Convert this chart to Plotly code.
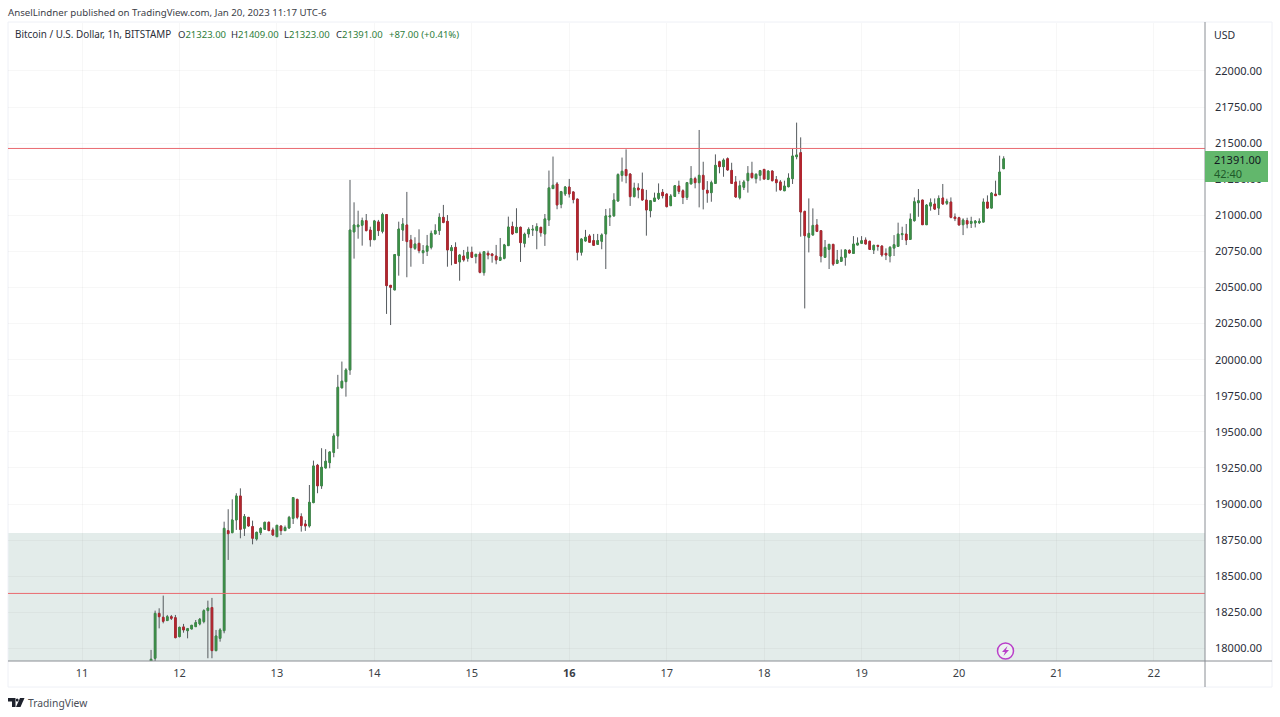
import pandas as pd
import plotly.graph_objects as go

START = "2023-01-11 17:00"
OPEN = [17905,17932,18243,18216,18193,18220,18213,18082,18149,18123,18135,18151,18170,18186,18262,18283,17985,18070,18123,18816,
18802,18890,19056,18832,18908,18844,18758,18802,18825,18874,18821,18774,18848,18816,18834,18901,19033,18913,18862,18848,
19010,19269,19126,19250,19287,19357,19472,19805,19848,19929,20885,20921,20931,20963,20898,20831,20954,20889,21005,20515,
20483,20721,20898,20933,20829,20771,20806,20741,20751,20778,20871,20894,20986,20958,20755,20778,20677,20718,20702,20744,
20714,20732,20603,20737,20732,20718,20688,20702,20790,20922,20880,20917,20806,20871,20898,20894,20917,20871,20968,21185,
21217,21076,21148,21196,21162,21113,20744,20822,20857,20825,20799,20820,20871,20989,20996,21099,21277,21317,21286,21129,
21189,21180,21106,21032,21097,21117,21159,21147,21067,21131,21203,21170,21124,21217,21254,21226,21277,21173,21157,21221,
21371,21337,21392,21311,21231,21122,21194,21240,21291,21254,21277,21318,21249,21307,21247,21231,21170,21198,21254,21406,
21434,21027,20847,20863,20933,20893,20709,20764,20799,20667,20681,20709,20757,20736,20794,20806,20829,20820,20760,20792,
20787,20736,20718,20773,20785,20866,20870,20833,20963,21087,21106,20935,21064,21078,21050,21120,21083,21092,20988,20983,
20935,20963,20944,20947,20949,20953,21092,21050,21147,21143,21323]
HIGH = [17990,18262,18278,18366,18232,18232,18232,18151,18170,18142,18163,18197,18211,18271,18331,18350,18128,18140,18878,18964,
19033,19075,19109,18931,18908,18885,18809,18839,18876,18878,18837,18855,18853,18851,18918,19047,19035,18936,18890,19132,
19301,19278,19387,19380,19363,19490,19895,19987,19941,21245,21090,21032,20984,21009,20921,20968,20968,21018,21005,20517,
20732,20956,20981,21162,20864,20848,20903,20794,20864,20894,20938,21014,21072,21002,20794,20813,20730,20760,20783,20783,
20732,20748,20748,20755,20737,20795,20843,20802,20991,20956,21049,20922,20880,20917,20933,20945,20917,21009,21310,21407,
21231,21169,21203,21252,21164,21113,20841,20899,20869,20871,20871,20875,21044,21049,21153,21291,21400,21457,21291,21226,
21222,21296,21176,21106,21157,21221,21182,21152,21147,21210,21240,21180,21231,21341,21267,21591,21371,21237,21240,21422,
21378,21394,21401,21364,21272,21240,21244,21341,21371,21291,21314,21321,21309,21309,21272,21244,21240,21291,21464,21642,
21540,21032,21117,21048,20974,20898,20829,20801,20801,20760,20764,20764,20764,20856,20847,20856,20847,20824,20796,20792,
20792,20771,20787,20863,20949,20921,20940,21013,21124,21182,21106,21078,21117,21117,21138,21217,21115,21124,21013,20990,
20979,20983,20990,20967,20979,21117,21138,21161,21240,21413,21409]
LOW = [17890,17909,18139,18174,18190,18197,18070,18077,18109,18070,18133,18151,18160,18174,17932,17932,17980,18047,18105,18613,
18798,18821,18763,18779,18844,18721,18747,18786,18821,18814,18779,18774,18786,18814,18830,18862,18895,18809,18814,18837,
19006,19075,19105,19248,19248,19324,19382,19802,19744,19895,20700,20838,20790,20889,20783,20829,20857,20875,20317,20240,
20483,20582,20822,20571,20644,20760,20737,20663,20718,20764,20871,20864,20945,20644,20654,20663,20547,20679,20679,20704,
20667,20598,20582,20695,20672,20661,20688,20695,20788,20864,20880,20677,20778,20845,20857,20765,20852,20788,20926,21187,
21042,21049,21134,21123,21083,20688,20721,20818,20811,20788,20795,20765,20628,20926,20991,21095,21233,21222,21065,21125,
21118,21102,20859,20986,21094,21106,21117,21055,21064,21129,21147,21078,21106,21217,21187,21055,21041,21087,21094,21217,
21291,21267,21309,21217,21122,21110,21175,21157,21254,21221,21240,21249,21244,21235,21164,21170,21170,21194,21217,21388,
20852,20355,20743,20863,20884,20674,20709,20628,20649,20667,20679,20651,20736,20736,20794,20801,20801,20760,20732,20755,
20713,20690,20674,20718,20783,20829,20794,20833,20956,20990,20933,20933,21032,21037,21002,21076,21071,20979,20960,20930,
20863,20910,20912,20916,20940,20953,21046,21048,21134,21143,21323]
CLOSE = [17925,18243,18220,18188,18220,18209,18075,18146,18128,18137,18160,18179,18202,18262,18280,17985,18086,18128,18832,18795,
18890,19056,18825,18913,18848,18763,18804,18832,18874,18816,18786,18853,18816,18837,18908,19045,18908,18851,18848,19012,
19264,19126,19255,19297,19361,19472,19809,19851,19929,20898,20933,20933,20963,20894,20831,20961,20894,21005,20513,20501,
20728,20905,20940,20818,20776,20801,20755,20755,20788,20875,20894,20986,20951,20760,20776,20667,20725,20691,20744,20709,
20730,20605,20748,20725,20721,20691,20709,20795,20919,20871,20917,20811,20869,20903,20903,20922,20880,20975,21190,21208,
21072,21164,21196,21148,21109,20744,20836,20848,20813,20792,20825,20864,20996,20996,21106,21282,21305,21275,21129,21189,
21176,21106,21037,21101,21120,21152,21136,21060,21134,21205,21166,21124,21226,21254,21226,21277,21180,21154,21226,21346,
21337,21383,21314,21221,21127,21205,21231,21291,21261,21284,21309,21251,21307,21240,21226,21177,21203,21258,21411,21418,
21023,20859,20875,20930,20889,20718,20778,20799,20662,20690,20709,20760,20739,20801,20808,20824,20801,20764,20792,20785,
20725,20725,20778,20796,20870,20873,20829,20974,21094,21101,20935,21071,21087,21043,21117,21078,21097,20986,20977,20933,
20967,20940,20958,20960,20958,21092,21050,21154,21136,21300,21391]

DAY_TICKS = ["2023-01-%02d" % d for d in range(11, 23)]
DAY_LABELS = ["11","12","13","14","15","<b>16</b>","17","18","19","20","21","22"]
PRICE_TICKS = list(range(18000, 22001, 250))
PRICE_LABELS = ["%d.00" % p for p in PRICE_TICKS]
ZONE_LOW, ZONE_HIGH = 17913, 18800
LEVELS = [21463, 18381]

times = pd.date_range(START, periods=len(OPEN), freq="h")

W, H = 1280, 717
L, R, T, B = 8, 1205, 23, 661
def px(x): return (x - L) / (R - L)
def py(y): return (B - y) / (B - T)

GREEN, RED, WICK = "#3c8f47", "#b3262f", "#555a5e"
SANS = "Noto Sans, sans-serif"
GRID = "rgba(42,46,57,0.04)"

fig = go.Figure()
fig.add_trace(go.Candlestick(x=times, open=OPEN, high=HIGH, low=LOW, close=CLOSE, name="wicks",
    increasing=dict(line=dict(color=WICK, width=1), fillcolor=WICK),
    decreasing=dict(line=dict(color=WICK, width=1), fillcolor=WICK),
    hoverinfo="skip", showlegend=False))
body_hi = [max(a, b) for a, b in zip(OPEN, CLOSE)]
body_lo = [min(a, b) for a, b in zip(OPEN, CLOSE)]
fig.add_trace(go.Candlestick(x=times, open=OPEN, high=body_hi, low=body_lo, close=CLOSE, name="BTCUSD",
    increasing=dict(line=dict(color=GREEN, width=1), fillcolor=GREEN),
    decreasing=dict(line=dict(color=RED, width=1), fillcolor=RED),
    showlegend=False))

shapes = [
    dict(type="rect", xref="paper", yref="y", x0=0, x1=1, y0=ZONE_LOW, y1=ZONE_HIGH,
         fillcolor="#e3ecea", line_width=0, layer="below"),
]
for lv in LEVELS:
    shapes.append(dict(type="line", xref="paper", yref="y", x0=0, x1=1, y0=lv, y1=lv,
                       line=dict(color="#ea6a70", width=1), layer="above"))
# frame
BORDER = "#eef0f6"
shapes += [
    dict(type="rect", xref="paper", yref="paper", x0=px(8), x1=px(1272), y0=py(687), y1=py(22),
         line=dict(color=BORDER, width=1), layer="below"),
    dict(type="line", xref="paper", yref="paper", x0=px(1205), x1=px(1205), y0=py(687), y1=py(22),
         line=dict(color="#8a8e94", width=1), layer="above"),
    dict(type="line", xref="paper", yref="paper", x0=px(8), x1=px(1272), y0=py(661), y1=py(661),
         line=dict(color="#8a8e94", width=1), layer="above"),
    # price badge
    dict(type="rect", xref="paper", yref="paper", x0=px(1205), x1=px(1268), y0=py(182), y1=py(151),
         fillcolor="#62b76c", line_width=0, layer="above"),
    # lightning marker
    dict(type="circle", xref="paper", yref="paper", x0=px(997.5), x1=px(1013.5), y0=py(659), y1=py(643),
         fillcolor="rgba(255,255,255,0.35)", line=dict(color="#b93fc9", width=1.5), layer="above"),
]
def path(pts):
    return "M" + " L".join("%.5f,%.5f" % (px(a), py(b)) for a, b in pts) + " Z"
shapes.append(dict(type="path", xref="paper", yref="paper", line_width=0, fillcolor="#b93fc9", layer="above",
    path=path([(1007.5,646),(1002,652),(1005,652),(1003.5,656),(1009,650),(1006,650)])))
# TradingView logo
LOGO = "#1e222d"
shapes.append(dict(type="path", xref="paper", yref="paper", line_width=0, fillcolor=LOGO, layer="above",
    path=path([(8,698),(15.5,698),(15.5,707),(12,707),(12,701.5),(8,701.5)])))
shapes.append(dict(type="circle", xref="paper", yref="paper", x0=px(15.8), x1=px(18.6), y0=py(701.4), y1=py(698.4),
    fillcolor=LOGO, line_width=0, layer="above"))
shapes.append(dict(type="path", xref="paper", yref="paper", line_width=0, fillcolor=LOGO, layer="above",
    path=path([(20,698),(24.5,698),(20.5,707),(16,707)])))

def note(x, y, text, size=10.5, color="#2a2e39", anchor="left"):
    return dict(xref="paper", yref="paper", x=px(x), y=py(y), text=text, showarrow=False,
                xanchor=anchor, yanchor="middle", font=dict(family=SANS, size=size, color=color),
                borderpad=0, borderwidth=0)

VAL = "#2e7d3a"
ann = [
    note(8, 12, "AnselLindner published on TradingView.com, Jan 20, 2023 11:17 UTC-6", 9.7, "#3c4048"),
    note(15, 34, "Bitcoin / U.S. Dollar, 1h, BITSTAMP", 9.9, "#2a2e39"),
    note(178, 34, "O<span style='color:%s'>21323.00</span>" % VAL, 9.5),
    note(231, 34, "H<span style='color:%s'>21409.00</span>" % VAL, 9.5),
    note(284, 34, "L<span style='color:%s'>21323.00</span>" % VAL, 9.5),
    note(336, 34, "C<span style='color:%s'>21391.00</span>" % VAL, 9.5),
    note(388.5, 34, "+87.00 (+0.41%)", 9.5, VAL),
    note(1214, 35, "USD", 10.5),
    note(1214, 160, "21391.00", 11, "#131722"),
    note(1214, 173, "42:40", 11, "#1f5a2a"),
    note(28, 703, "TradingView", 10.3, "#4a4e57"),
]

fig.update_layout(
    width=W, height=H, autosize=False, paper_bgcolor="white", plot_bgcolor="white",
    margin=dict(l=L, r=W - R, t=T, b=H - B), boxgap=0.45, showlegend=False,
    shapes=shapes, annotations=ann,
    font=dict(family=SANS, size=11, color="#3a3e46"),
    xaxis=dict(type="date", range=["2023-01-10 05:46", "2023-01-22 12:35"], rangeslider=dict(visible=False),
               tickmode="array", tickvals=DAY_TICKS, ticktext=DAY_LABELS, showgrid=True, gridcolor=GRID,
               gridwidth=1, zeroline=False, ticks="", showline=False, tickfont=dict(family=SANS, size=11, color="#3a3e46"),
               ticklabelstandoff=4),
    yaxis=dict(side="right", range=[17913, 22332], tickmode="array", tickvals=PRICE_TICKS, ticktext=PRICE_LABELS,
               showgrid=True, gridcolor=GRID, gridwidth=1, zeroline=False, ticks="", showline=False,
               tickfont=dict(family=SANS, size=11, color="#2a2e39"), ticklabelstandoff=9),
)
fig.write_html("out.html", config=dict(displayModeBar=False),
               post_script="document.body.style.margin='0';document.documentElement.style.overflow='hidden';")
